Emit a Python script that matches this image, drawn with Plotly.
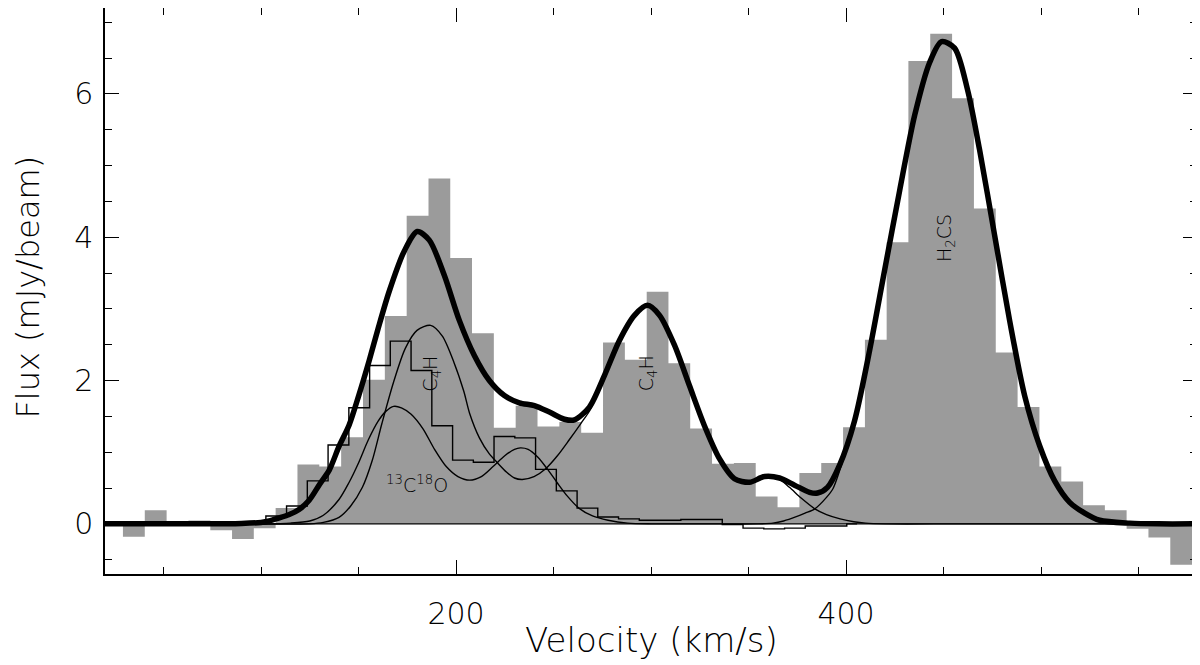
import plotly.graph_objects as go

# ---------------- data (velocity in km/s, flux in mJy/beam) ----------------
# observed spectrum (grey histogram): channel centres and flux
chan_v = [23.6, 34.8, 46.0, 57.2, 68.4, 79.6, 90.7, 101.9, 113.1, 124.3, 135.5, 146.7,
          157.9, 169.1, 180.3, 191.5, 202.6, 213.8, 225.0, 236.2, 247.4, 258.6, 269.8,
          281.0, 292.2, 303.4, 314.5, 325.7, 336.9, 348.1, 359.3, 370.5, 381.7, 392.9,
          404.1, 415.3, 426.4, 437.6, 448.8, 460.0, 471.2, 482.4, 493.6, 504.8, 516.0,
          527.2, 538.3, 549.5, 560.7, 571.9, 583.1]
chan_flux = [0.0, -0.18, 0.19, 0.01, 0.045, -0.09, -0.21, -0.06, 0.22, 0.83, 0.80, 1.21,
             2.01, 2.90, 4.30, 4.82, 3.71, 2.66, 1.34, 1.65, 1.36, 1.42, 1.27,
             2.53, 2.29, 3.24, 2.24, 1.33, 0.84, 0.85, 0.38, 0.23, 0.71, 0.85,
             1.35, 2.57, 3.93, 6.46, 6.84, 5.94, 4.40, 2.39, 1.63, 0.80, 0.59,
             0.26, 0.19, -0.07, -0.19, -0.57, -0.28]

# second spectrum (thin black step histogram)
step_v = [97.2, 107.8, 118.4, 129.1, 139.7, 150.4, 161.0, 171.6, 182.3, 192.9, 203.6,
          214.2, 224.8, 235.5, 246.1, 256.8, 267.4, 278.0, 288.7, 299.3, 310.0, 320.6,
          331.2, 341.9, 352.5, 363.2, 373.8, 384.4, 395.1, 405.7]
step_flux = [0.0, 0.11, 0.25, 0.60, 1.10, 1.62, 2.21, 2.55, 2.14, 1.37, 0.89,
             0.86, 1.22, 1.20, 0.76, 0.46, 0.22, 0.095, 0.07, 0.05, 0.05, 0.06,
             0.06, -0.01, -0.06, -0.07, -0.06, -0.03, -0.03, 0.0]

# total fit (thick curve)
fit_v = [20, 60, 90, 100, 104.2, 109, 114.5, 119.5, 124.7, 130, 135.0, 140, 145.2, 150,
         155.5, 160, 165.8, 173.5, 180.1, 186.3, 194.0, 201.7, 209.4, 217.1, 224.8,
         232.5, 240.2, 247.9, 255.6, 260.7, 268.4, 276.1, 283.8, 291.5, 298.2, 304.4,
         312.1, 319.7, 327.4, 335.1, 342.8, 350.5, 358.2, 365.9, 373.6, 381.3, 385.4,
         390.5, 396.7, 404.4, 412.1, 419.8, 427.5, 435.2, 442.9, 449.0, 455.7, 462.4,
         468.5, 476.2, 483.9, 491.6, 499.3, 507.0, 514.7, 522.4, 530.1, 545.5, 560, 580]
fit_flux = [0, 0, 0.005, 0.02, 0.04, 0.08, 0.13, 0.20, 0.33, 0.55, 0.75, 1.08, 1.38, 1.78,
            2.28, 2.72, 3.25, 3.81, 4.08, 3.96, 3.47, 2.84, 2.35, 2.00, 1.79,
            1.69, 1.65, 1.56, 1.46, 1.45, 1.63, 2.07, 2.56, 2.91, 3.05, 2.91,
            2.49, 1.93, 1.37, 0.91, 0.63, 0.58, 0.66, 0.64, 0.54, 0.44, 0.43,
            0.51, 0.82, 1.44, 2.42, 3.54, 4.65, 5.70, 6.44, 6.73, 6.64, 6.05,
            5.22, 4.03, 2.84, 1.79, 1.09, 0.60, 0.30, 0.15, 0.05, 0.01, 0, 0]

# individual components (thin curves)
c18o_v = [20, 60, 100, 115, 125, 132, 140, 145, 150, 155, 160, 164, 168, 172, 177, 183,
          189, 195, 201, 207, 213, 219, 225, 230, 233, 237, 242, 247, 252, 257, 263,
          270, 278, 288, 300, 340, 580]
c18o_flux = [0, 0, 0, 0.01, 0.04, 0.12, 0.34, 0.57, 0.85, 1.17, 1.43, 1.57, 1.64, 1.62,
             1.53, 1.33, 1.04, 0.80, 0.66, 0.61, 0.66, 0.80, 0.95, 1.04, 1.06, 1.04,
             0.93, 0.76, 0.57, 0.39, 0.22, 0.11, 0.05, 0.01, 0, 0, 0]

c4h_v = [20, 80, 125, 132, 140, 146, 152, 157, 162, 168, 174, 180, 187, 193, 199, 204,
         207, 212, 217, 221, 226, 230, 234, 240, 246, 252, 258, 264, 269, 276.1, 283.8,
         291.5, 298.2, 304.4, 312.1, 319.7, 327.4, 335.1, 342.8, 350.5, 358.2, 365.9,
         371, 377, 384, 390, 397, 404, 410, 420, 460, 580]
c4h_flux = [0, 0, 0, 0.02, 0.09, 0.25, 0.51, 0.88, 1.40, 1.98, 2.45, 2.70, 2.77, 2.62,
            2.25, 1.85, 1.54, 1.20, 0.98, 0.86, 0.72, 0.64, 0.62, 0.66, 0.77, 0.95,
            1.17, 1.40, 1.60, 2.07, 2.56, 2.91, 3.05, 2.91, 2.49, 1.93, 1.37, 0.91,
            0.63, 0.58, 0.66, 0.62, 0.51, 0.36, 0.21, 0.13, 0.07, 0.03, 0.01, 0, 0, 0]

h2cs_v = [20, 200, 330, 355, 362.5, 368, 374.5, 379, 384, 390, 393.3, 396.7, 404.4,
          412.1, 419.8, 427.5, 435.2, 442.9, 449.0, 455.7, 462.4, 468.5, 476.2, 483.9,
          491.6, 499.3, 507.0, 514.7, 522.4, 530.1, 545.5, 560, 580]
h2cs_flux = [0, 0, 0, 0, 0.01, 0.04, 0.10, 0.15, 0.21, 0.37, 0.49, 0.74, 1.42,
             2.41, 3.54, 4.65, 5.70, 6.44, 6.73, 6.64, 6.05, 5.22, 4.03, 2.84,
             1.79, 1.09, 0.60, 0.30, 0.15, 0.05, 0.01, 0, 0]

# line labels: (text, velocity, flux, angle)
labels = [("C<sub>4</sub>H", 187.3, 2.10, -90),
          ("C<sub>4</sub>H", 297.9, 2.10, -90),
          ("H<sub>2</sub>CS", 451.3, 3.99, -90),
          ("<sup>13</sup>C<sup>18</sup>O", 180.1, 0.56, 0)]

x_title = "Velocity (km/s)"
y_title = "Flux (mJy/beam)"
x_range = [20, 580]
y_range = [-0.7, 7.2]

# ---------------- figure ----------------
FONT = "DejaVu Sans"
fig = go.Figure()

fig.add_trace(go.Scatter(x=chan_v, y=chan_flux, mode="lines", line_shape="hvh",
                         line=dict(width=0, color="#9b9b9b"), fill="tozeroy",
                         fillcolor="#9b9b9b", hoverinfo="skip"))
fig.add_trace(go.Scatter(x=step_v, y=step_flux, mode="lines", line_shape="hvh",
                         line=dict(width=1.4, color="black"), hoverinfo="skip"))
for vx, fy in [(c18o_v, c18o_flux), (c4h_v, c4h_flux), (h2cs_v, h2cs_flux)]:
    fig.add_trace(go.Scatter(x=vx, y=fy, mode="lines", line_shape="spline",
                             line=dict(width=1.4, color="black", smoothing=0.8),
                             hoverinfo="skip"))
fig.add_trace(go.Scatter(x=fit_v, y=fit_flux, mode="lines", line_shape="spline",
                         line=dict(width=5.5, color="black", smoothing=0.8),
                         hoverinfo="skip"))

for txt, lx, ly, ang in labels:
    fig.add_annotation(x=lx, y=ly, text=txt, showarrow=False, textangle=ang,
                       font=dict(family=FONT, size=19, color="black", weight=200))

# axis titles placed in paper coordinates
fig.add_annotation(xref="paper", yref="paper", x=0.5, y=-0.117, text=x_title,
                   showarrow=False, xanchor="center", yanchor="middle",
                   font=dict(family=FONT, size=34, color="black", weight=200))
fig.add_annotation(xref="paper", yref="paper", x=-0.0705, y=0.506, text=y_title,
                   showarrow=False, xanchor="center", yanchor="middle", textangle=-90,
                   borderpad=0,
                   font=dict(family=FONT, size=32, color="black", weight=200))

axis_common = dict(showline=True, linecolor="black", linewidth=1.5, mirror="ticks",
                   ticks="inside", ticklen=14, tickwidth=1.3, tickcolor="black",
                   showgrid=False, zeroline=False, automargin=False,
                   tickfont=dict(family=FONT, size=30, color="black", weight=200))

fig.update_xaxes(range=x_range, dtick=200, tick0=0,
                 minor=dict(dtick=50, tick0=0, ticks="inside", ticklen=7,
                            tickwidth=1.3, tickcolor="black", showgrid=False),
                 ticklabelstandoff=12, **axis_common)
fig.update_yaxes(range=y_range, dtick=2, tick0=0,
                 minor=dict(dtick=0.5, tick0=0, ticks="inside", ticklen=7,
                            tickwidth=1.3, tickcolor="black", showgrid=False),
                 ticklabelstandoff=4, **axis_common)

# the page adds an 8 px body margin, so the figure is sized to land the frame
# where the reference has it
fig.update_layout(width=1192, height=657, showlegend=False,
                  margin=dict(l=97, r=3, t=0, b=91, pad=0),
                  plot_bgcolor="white", paper_bgcolor="white")

fig.write_html("out.html")
